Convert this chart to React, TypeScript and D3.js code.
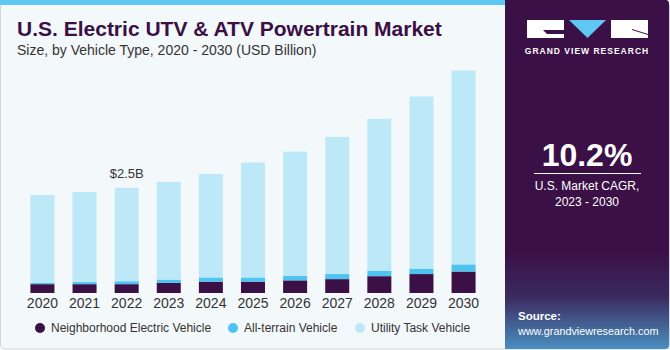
import React from 'react';
import * as d3 from 'd3';

const years = ['2020', '2021', '2022', '2023', '2024', '2025', '2026', '2027', '2028', '2029', '2030'];
const nev = [0.21, 0.21, 0.21, 0.24, 0.27, 0.27, 0.3, 0.33, 0.4, 0.45, 0.51];
const atv = [0.03, 0.05, 0.07, 0.08, 0.1, 0.1, 0.11, 0.12, 0.13, 0.13, 0.17];
const utv = [2.09, 2.14, 2.22, 2.32, 2.46, 2.73, 2.95, 3.26, 3.61, 4.09, 4.61];
const seriesNames = ['Neighborhood Electric Vehicle', 'All-terrain Vehicle', 'Utility Task Vehicle'];
const colors = ['#3a1046', '#4cc3f1', '#bde8f8'];

const W = 670;
const H = 350;

export default function App() {
  const rows = years.map((y, i) => ({ year: y, nev: nev[i], atv: atv[i], utv: utv[i] }));
  const stacked = d3.stack<any>().keys(['nev', 'atv', 'utv'])(rows);

  const x = d3.scaleBand().domain(years).range([22, 484]).paddingInner(0.43).paddingOuter(0.2);
  const y = d3.scaleLinear().domain([0, 5.3]).range([293, 70]);

  const font = 'Arial, "Liberation Sans", sans-serif';
  const legendX = [40, 233, 360];

  return (
    <svg width={W} height={H} style={{ display: 'block', position: 'absolute', left: 0, top: 0 }} fontFamily={font}>
      <defs>
        <linearGradient id="panelGrad" x1="0" y1="0" x2="0" y2="1">
          <stop offset="0" stopColor="#3a1046" />
          <stop offset="0.72" stopColor="#3a1046" />
          <stop offset="0.85" stopColor="#3b2a5e" />
          <stop offset="1" stopColor="#4a8fc0" />
        </linearGradient>
      </defs>
      <rect x={0} y={0} width={W} height={H} fill="#ffffff" />
      <rect x={0.5} y={2} width={W - 1} height={H - 3} rx={4} fill="#f3f8fb" stroke="#d3d7da" />
      <rect x={0} y={0} width={505} height={5} fill="#5ec8f2" />
      <path d={`M505,0 H666 Q669,0 669,4 V345 Q669,349 665,349 H505 Z`} fill="url(#panelGrad)" />

      <text x={17} y={36} fontSize={21} fontWeight="bold" fill="#3a1046">U.S. Electric UTV &amp; ATV Powertrain Market</text>
      <text x={17} y={55} fontSize={14} fill="#333333">Size, by Vehicle Type, 2020 - 2030 (USD Billion)</text>

      {stacked.map((s, si) => (
        <g key={si} fill={colors[si]}>
          {s.map((d, i) => (
            <rect key={i} x={x(years[i])} y={y(d[1])} width={x.bandwidth()} height={y(d[0]) - y(d[1])} />
          ))}
        </g>
      ))}

      <text x={(x('2022') as number) + x.bandwidth() / 2} y={y(2.5) - 10} textAnchor="middle" fontSize={13} fill="#333">$2.5B</text>

      {years.map((yr) => (
        <text key={yr} x={(x(yr) as number) + x.bandwidth() / 2} y={308} textAnchor="middle" fontSize={14} fill="#333">{yr}</text>
      ))}

      {seriesNames.map((n, i) => (
        <g key={n}>
          <circle cx={legendX[i]} cy={328} r={5} fill={colors[i]} />
          <text x={legendX[i] + 11} y={332} fontSize={12} fill="#333">{n}</text>
        </g>
      ))}

      {/* logo */}
      <g>
        <rect x={527} y={20} width={37} height={18} fill="#ffffff" />
        <path d="M543,30 H564 V34 H547 Z" fill="#3a1046" />
        <path d="M569,20 H606 L587.5,38 Z" fill="#5ec8f2" />
        <rect x={611} y={20} width={37} height={18} fill="#ffffff" />
        <path d="M632,29 L648,34 L648,35 L632,30 Z" fill="#3a1046" />
        <text x={587} y={54} textAnchor="middle" fontSize={8.5} fontWeight="bold" fill="#ffffff" letterSpacing={1}>GRAND VIEW RESEARCH</text>
      </g>

      <text x={587} y={166} textAnchor="middle" fontSize={32} fontWeight="bold" fill="#ffffff">10.2%</text>
      <line x1={534} x2={641} y1={173.5} y2={173.5} stroke="#ffffff" strokeWidth={1} />
      <text x={587} y={190} textAnchor="middle" fontSize={12} fill="#ffffff">U.S. Market CAGR,</text>
      <text x={587} y={206} textAnchor="middle" fontSize={12} fill="#ffffff">2023 - 2030</text>

      <text x={518} y={320} fontSize={11.5} fontWeight="bold" fill="#ffffff">Source:</text>
      <text x={518} y={335} fontSize={10.8} fill="#ffffff">www.grandviewresearch.com</text>
    </svg>
  );
}
